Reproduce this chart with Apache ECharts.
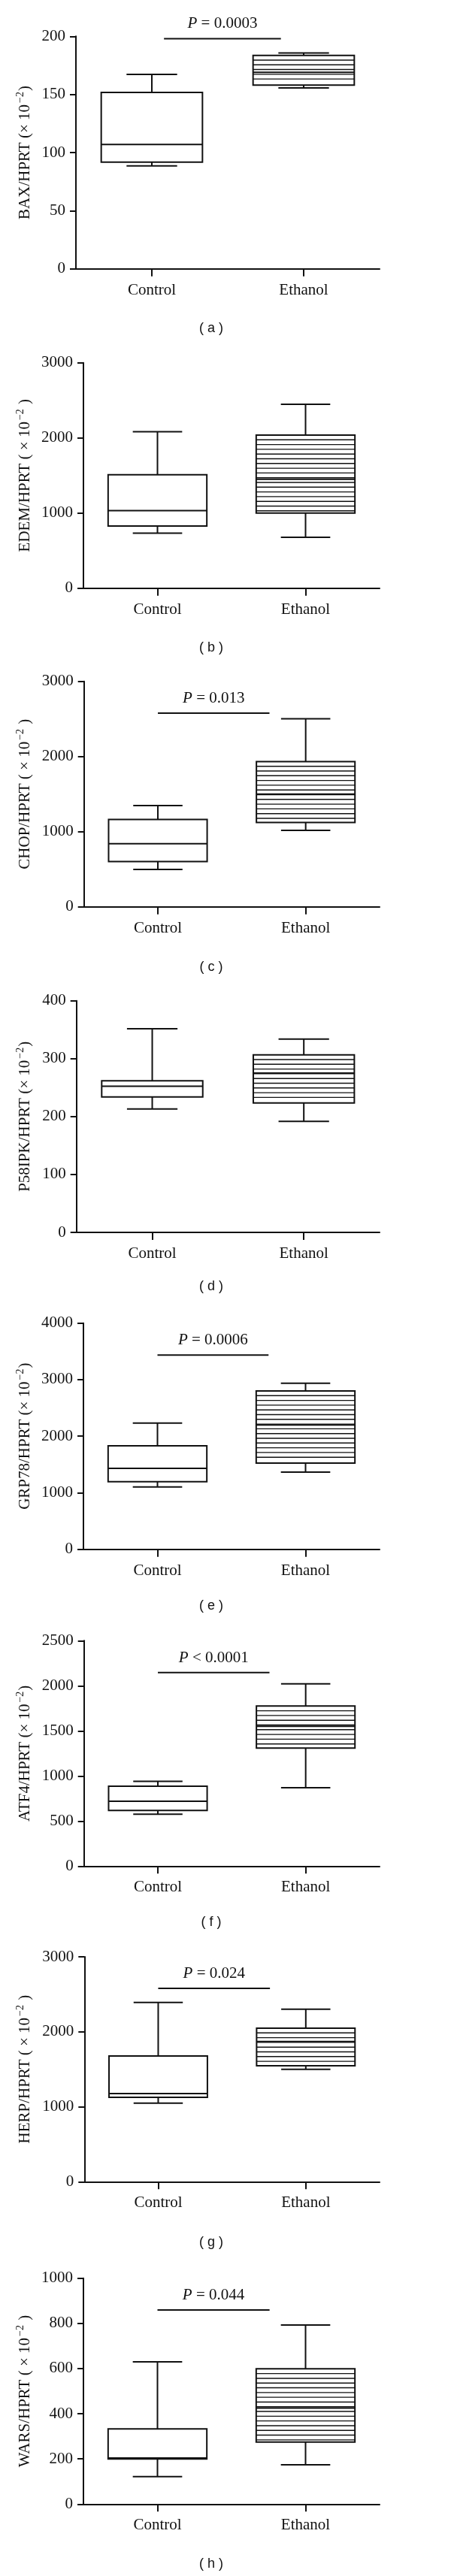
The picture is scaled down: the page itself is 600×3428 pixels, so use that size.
<!DOCTYPE html>
<html><head><meta charset="utf-8">
<script src="https://cdn.jsdelivr.net/npm/echarts@6/dist/echarts.min.js"></script>
<style>html,body{margin:0;padding:0;background:#fff}#c{width:600px;height:3428px}</style>
</head><body><div id="c"></div>
<script>
// ---------- data ----------
const categories = ['Control', 'Ethanol'];
const panelLetters = ['a', 'b', 'c', 'd', 'e', 'f', 'g', 'h'];
const yNames = ['BAX/HPRT', 'EDEM/HPRT', 'CHOP/HPRT', 'P58IPK/HPRT', 'GRP78/HPRT', 'ATF4/HPRT', 'HERP/HPRT', 'WARS/HPRT'];
const yUnitSpaced = [false, true, true, false, false, false, true, true]; // "( ×10⁻² )" vs "(×10⁻²)"
const yMax = [200, 3000, 3000, 400, 4000, 2500, 3000, 1000];
const yInterval = [50, 1000, 1000, 100, 1000, 500, 1000, 200];
// [whisker low, Q1, median, Q3, whisker high]
const controlStats = [
  [88.6, 91.8, 106.9, 151.7, 167.3],
  [733, 827, 1033, 1510, 2083],
  [497, 603, 840, 1163, 1347],
  [213, 234, 252.5, 261.6, 351.6],
  [1103, 1196, 1431, 1830, 2233],
  [575, 617, 719, 886, 939],
  [1049, 1126, 1176, 1677, 2392],
  [122, 199.5, 204, 332.6, 629.7]
];
const ethanolStats = [
  [155.6, 158.0, 169, 183.6, 185.6],
  [677, 1000, 1450, 2037, 2447],
  [1017, 1123, 1500, 1933, 2503],
  [191.6, 223.6, 275, 306.6, 333.8],
  [1364, 1524, 2200, 2800, 2937],
  [869, 1308, 1550, 1775, 2022],
  [1500, 1547, 1870, 2048, 2302],
  [174, 274.9, 425, 598.6, 792.6]
];
const pTexts = ['= 0.0003', null, '= 0.013', null, '= 0.0006', '< 0.0001', '= 0.024', '= 0.044'];
const pLineY = [198, null, 2577, null, 3433, 2147, 2579, 859];
const pLineFrom = [0.08, null, 0, null, 0, 0, 0, 0];
const pLineTo = [0.85, null, 0.755, null, 0.75, 0.755, 0.757, 0.757];

// ---------- layout ----------
const gridTop = [48.3, 482.7, 906.7, 1331.7, 1760.7, 2183.3, 2604, 3031.7];
const gridBot = [357.7, 782.7, 1206.7, 1640, 2061.7, 2483.3, 2903.3, 3332.3];
const gridLeft = [101, 111, 111.7, 101.7, 111, 111.7, 112.3, 111];
const gridRight = 505;
const letterY = [437, 862, 1287, 1712, 2137, 2558, 2984, 3412];
const SERIF = '"Liberation Serif","Times New Roman",serif';
const INK = '#111';

const grids = [], xAxes = [], yAxes = [], series = [], graphics = [];

function boxItem(params, api) {
  const x = api.value(0);
  const cx = api.coord([x, 0])[0];
  const band = api.size([1, 0])[0];
  const bw = band * 2 / 3, cw = band / 3;
  const yLo = api.coord([x, api.value(1)])[1];
  const yQ1 = api.coord([x, api.value(2)])[1];
  const yMed = api.coord([x, api.value(3)])[1];
  const yQ3 = api.coord([x, api.value(4)])[1];
  const yHi = api.coord([x, api.value(5)])[1];
  const ls = { stroke: INK, lineWidth: 2 };
  const ch = [
    { type: 'line', shape: { x1: cx, y1: yHi, x2: cx, y2: yQ3 }, style: ls },
    { type: 'line', shape: { x1: cx, y1: yQ1, x2: cx, y2: yLo }, style: ls },
    { type: 'line', shape: { x1: cx - cw / 2, y1: yHi, x2: cx + cw / 2, y2: yHi }, style: ls },
    { type: 'line', shape: { x1: cx - cw / 2, y1: yLo, x2: cx + cw / 2, y2: yLo }, style: ls },
    { type: 'rect', shape: { x: cx - bw / 2, y: yQ3, width: bw, height: yQ1 - yQ3 }, style: { fill: '#fff', stroke: INK, lineWidth: 2 } }
  ];
  if (categories[x] === 'Ethanol') {
    for (let y = yQ3 + 6.3; y < yQ1 - 2; y += 6.3) {
      ch.push({ type: 'line', shape: { x1: cx - bw / 2, y1: y, x2: cx + bw / 2, y2: y }, style: { stroke: INK, lineWidth: 1.4 } });
    }
  }
  ch.push({ type: 'line', shape: { x1: cx - bw / 2, y1: yMed, x2: cx + bw / 2, y2: yMed }, style: ls });
  return { type: 'group', children: ch };
}

function pItem(params, api) {
  const a = api.coord([api.value(0), api.value(2)]);
  const b = api.coord([api.value(1), api.value(2)]);
  const txt = pTexts[api.value(3)];
  return {
    type: 'group', children: [
      { type: 'line', shape: { x1: a[0], y1: a[1], x2: b[0], y2: b[1] }, style: { stroke: INK, lineWidth: 2 } },
      {
        type: 'text', x: (a[0] + b[0]) / 2, y: a[1] - 19.5,
        style: {
          text: '{i|P} {n|' + txt + '}', align: 'center', verticalAlign: 'middle',
          rich: {
            i: { fontFamily: SERIF, fontSize: 21, fontStyle: 'italic', fill: INK },
            n: { fontFamily: SERIF, fontSize: 21, fill: INK }
          },
          fontFamily: SERIF, fontSize: 21, fill: INK
        }
      }
    ]
  };
}

for (let i = 0; i < 8; i++) {
  const sp = yUnitSpaced[i] ? ' ' : '';
  const nameRich = '{m|' + yNames[i] + ' (' + sp + '× 10}{s|−2}{m|' + sp + ')}';
  grids.push({ left: gridLeft[i], top: gridTop[i], width: gridRight - gridLeft[i], height: gridBot[i] - gridTop[i], outerBoundsMode: 'none', containLabel: false });
  xAxes.push({
    type: 'category', gridIndex: i, data: categories, position: 'bottom',
    axisLine: { show: true, onZero: false, lineStyle: { color: INK, width: 2 } },
    axisTick: { show: true, alignWithLabel: true, length: 10, lineStyle: { color: INK, width: 2 } },
    axisLabel: { color: INK, fontFamily: SERIF, fontSize: 21, margin: 18 },
    splitLine: { show: false }
  });
  xAxes.push({ type: 'value', gridIndex: i, min: -0.5, max: 1.5, show: false, axisLine: { onZero: false } });
  yAxes.push({
    type: 'value', gridIndex: i, min: 0, max: yMax[i], interval: yInterval[i], position: 'left',
    name: nameRich, nameLocation: 'middle', nameRotate: 90, nameGap: gridLeft[i] - 32 - 12,
    nameTextStyle: {
      color: INK, fontFamily: SERIF, fontSize: 21,
      rich: {
        m: { fontFamily: SERIF, fontSize: 21, color: INK, lineHeight: 24, verticalAlign: 'bottom' },
        s: { fontFamily: SERIF, fontSize: 14, color: INK, lineHeight: 24, verticalAlign: 'top', padding: [0, 1, 0, 2] }
      }
    },
    axisLine: { show: true, onZero: false, lineStyle: { color: INK, width: 2 } },
    axisTick: { show: true, length: 8, lineStyle: { color: INK, width: 2 } },
    axisLabel: { color: INK, fontFamily: SERIF, fontSize: 21, margin: 14, formatter: v => String(v) },
    splitLine: { show: false }
  });
  series.push({
    type: 'custom', xAxisIndex: 2 * i + 1, yAxisIndex: i, renderItem: boxItem,
    encode: { x: 0, y: [1, 2, 3, 4, 5] },
    data: [[0].concat(controlStats[i]), [1].concat(ethanolStats[i])],
    silent: true, z: 5
  });
  if (pTexts[i]) {
    series.push({
      type: 'custom', xAxisIndex: 2 * i + 1, yAxisIndex: i, renderItem: pItem,
      encode: { x: [0, 1], y: 2 },
      data: [[pLineFrom[i], pLineTo[i], pLineY[i], i]],
      silent: true, z: 6
    });
  }
  graphics.push({
    type: 'text', x: 281, y: letterY[i],
    style: { text: '( ' + panelLetters[i] + ' )', align: 'center', verticalAlign: 'middle', fontFamily: '"Liberation Sans",Arial,sans-serif', fontSize: 18, fill: INK }
  });
}

const chart = echarts.init(document.getElementById('c'), null, { renderer: 'canvas' });
chart.setOption({
  backgroundColor: '#fff',
  animation: false,
  grid: grids, xAxis: xAxes, yAxis: yAxes, series: series, graphic: graphics
});
</script></body></html>
